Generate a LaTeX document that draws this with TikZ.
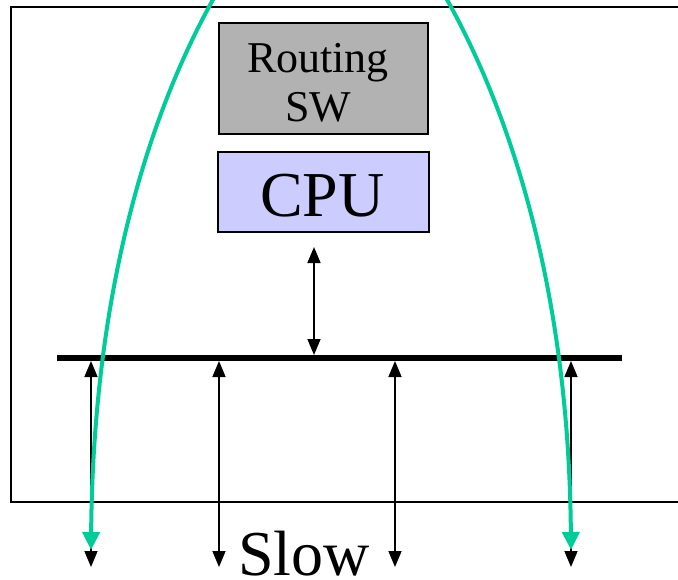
\documentclass[tikz,border=0pt]{standalone}
\usepackage{fontspec}
\setmainfont{Liberation Serif}
\usetikzlibrary{arrows.meta}
\definecolor{swgray}{HTML}{B2B2B2}
\definecolor{cpublue}{HTML}{CCCCFF}
\definecolor{flowgreen}{HTML}{00CC99}
\tikzset{
  box/.style={draw=black, line width=1.6pt, inner sep=0pt, anchor=north west},
  port/.style={line width=1.6pt, {Triangle[width=13pt,length=16pt]}-{Triangle[width=13pt,length=16pt]}},
  flow/.style={draw=flowgreen, line width=4pt, -{Triangle[width=17pt,length=18pt]}},
}
\begin{document}
\begin{tikzpicture}[x=1pt,y=-1pt]
\useasboundingbox (0,0) rectangle (678,579);
\clip (0,0) rectangle (678,579);
% chassis
\draw[line width=2pt] (695,7) -- (11,7) -- (11,502) -- (695,502);
% boxes
\node[box, fill=swgray, minimum width=209pt, minimum height=111pt] (sw) at (218,22) {};
\node[align=center, font=\fontsize{44}{49}\selectfont] (swtext) at (318,83) {Routing\\SW};
\node[box, fill=cpublue, minimum width=211pt, minimum height=80pt] (cpu) at (217,151) {};
\node[font=\fontsize{64}{70}\selectfont, inner sep=0pt] (cputext) at (322.5,196) {CPU};
% bus
\coordinate (busL) at (57,358);
\coordinate (busR) at (622,358);
\draw[line width=6pt] (busL) -- (busR);
% CPU link
\coordinate (cpuA) at (314,247);
\coordinate (cpuB) at (314,355);
\draw[port] (cpuA) -- (cpuB);
% ports
\foreach \i/\x in {1/91,2/219,3/395,4/571}{
  \coordinate (pt\i) at (\x,361);
  \coordinate (pb\i) at (\x,567);
  \draw[port] (pt\i) -- (pb\i);
}
% label
\node[font=\fontsize{64}{70}\selectfont, inner sep=0pt, anchor=base] (slow) at (304,575) {Slow};
% flows
\coordinate (g1s) at (215,-4);
\coordinate (g1e) at (91,550);
\coordinate (g2s) at (445,-4);
\coordinate (g2e) at (571,550);
\draw[flow] (g1s) .. controls (145,120) and (93,300) .. (g1e);
\draw[flow] (g2s) .. controls (515,120) and (569,300) .. (g2e);
\end{tikzpicture}
\end{document}
